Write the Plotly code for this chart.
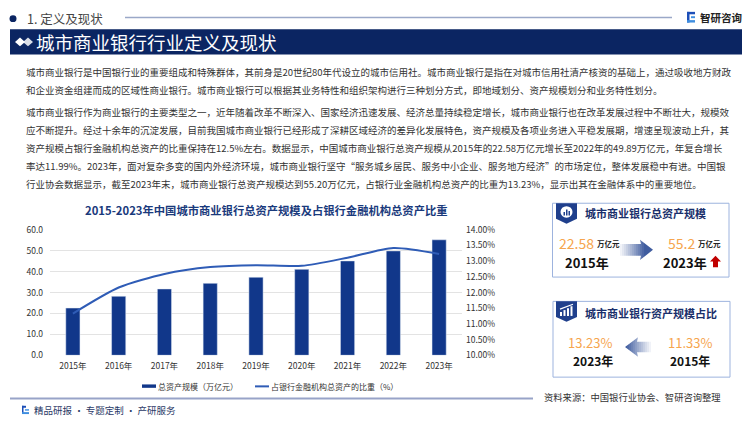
import plotly.graph_objects as go

# ---------------- data ----------------
years = ["2015年", "2016年", "2017年", "2018年", "2019年", "2020年", "2021年", "2022年", "2023年"]
assets = [22.58, 28.2, 31.7, 34.4, 37.3, 41.1, 45.1, 49.89, 55.20]          # 万亿元
ratio = [11.33, 12.16, 12.59, 12.81, 12.87, 12.85, 13.11, 13.42, 13.23]     # %
left_ticks = [0, 10, 20, 30, 40, 50, 60]
left_labels = ["0.0", "10.0", "20.0", "30.0", "40.0", "50.0", "60.0"]
right_ticks = [10.0, 10.5, 11.0, 11.5, 12.0, 12.5, 13.0, 13.5, 14.0]
right_labels = ["10.00%", "10.50%", "11.00%", "11.50%", "12.00%", "12.50%", "13.00%", "13.50%", "14.00%"]

chart_title = "2015-2023年中国城市商业银行总资产规模及占银行金融机构总资产比重"
legend_labels = ["总资产规模（万亿元）", "占银行金融机构总资产的比重（%）"]

para_lines = [
    "城市商业银行是中国银行业的重要组成和特殊群体，其前身是20世纪80年代设立的城市信用社。城市商业银行是指在对城市信用社清产核资的基础上，通过吸收地方财政",
    "和企业资金组建而成的区域性商业银行。城市商业银行可以根据其业务特性和组织架构进行三种划分方式，即地域划分、资产规模划分和业务特性划分。",
    "城市商业银行作为商业银行的主要类型之一，近年随着改革不断深入、国家经济迅速发展、经济总量持续稳定增长，城市商业银行也在改革发展过程中不断壮大，规模效",
    "应不断提升。经过十余年的沉淀发展，目前我国城市商业银行已经形成了深耕区域经济的差异化发展特色，资产规模及各项业务进入平稳发展期，增速呈现波动上升，其",
    "资产规模占银行金融机构总资产的比重保持在12.5%左右。数据显示，中国城市商业银行总资产规模从2015年的22.58万亿元增长至2022年的49.89万亿元，年复合增长",
    "率达11.99%。2023年，面对复杂多变的国内外经济环境，城市商业银行坚守“服务城乡居民、服务中小企业、服务地方经济”的市场定位，整体发展稳中有进。中国银",
    "行业协会数据显示，截至2023年末，城市商业银行总资产规模达到55.20万亿元，占银行业金融机构总资产的比重为13.23%，显示出其在金融体系中的重要地位。",
]
para_y = [66.5, 85.5, 108, 126.5, 145, 163.5, 182.5]

W, H = 750, 421
FONT = "Noto Sans CJK SC, Microsoft YaHei, sans-serif"
NAVY = "#0b2562"
BAR = "#11378a"
LINE = "#2f5cb6"
ORANGE = "#f6a54e"


def px(x):
    return x / W


def py(y):
    return 1 - y / H


fig = go.Figure()
fig.add_trace(go.Bar(x=years, y=assets, width=0.31, marker_color=BAR,
                     name=legend_labels[0], showlegend=False))
fig.add_trace(go.Scatter(x=years, y=ratio, mode="lines", yaxis="y2",
                         line=dict(color=LINE, width=2, shape="spline", smoothing=0.7),
                         name=legend_labels[1], showlegend=False))

shapes = []
ann = []


def text(x, y, s, size, color="#333333", anchor="left", bold=False, yanchor="middle"):
    ann.append(dict(x=px(x), y=py(y), xref="paper", yref="paper", text=(f"<b>{s}</b>" if bold else s),
                    showarrow=False, xanchor=anchor, yanchor=yanchor,
                    font=dict(size=size, color=color, family=FONT), borderpad=0))


def rect(x0, y0, x1, y1, fill=None, line=None, lw=1, opacity=1):
    shapes.append(dict(type="rect", xref="paper", yref="paper", x0=px(x0), x1=px(x1), y0=py(y1), y1=py(y0),
                       fillcolor=fill if fill else "rgba(0,0,0,0)",
                       line=dict(color=line if line else "rgba(0,0,0,0)", width=lw if line else 0),
                       opacity=opacity, layer="above"))


def poly(points, fill, opacity=1):
    d = "M" + " L".join(f"{px(x)},{py(y)}" for x, y in points) + " Z"
    shapes.append(dict(type="path", xref="paper", yref="paper", path=d, fillcolor=fill,
                       line=dict(width=0), opacity=opacity, layer="above"))


def hline(x0, x1, y, color, w):
    shapes.append(dict(type="line", xref="paper", yref="paper", x0=px(x0), x1=px(x1), y0=py(y), y1=py(y),
                       line=dict(color=color, width=w), layer="above"))


# ---------- header ----------
shapes.append(dict(type="circle", xref="paper", yref="paper", x0=px(9.5), x1=px(16.5), y0=py(15.5), y1=py(8.5),
                   fillcolor=NAVY, line=dict(width=0)))
text(26, 12, "1. 定义及现状", 12.5, color="#444444")
hline(125, 672, 10.7, "#9aa8c8", 1.5)
# logo
rect(687, 5, 695, 7.5, fill="#1d4fb8")
rect(687, 5, 689.5, 16, fill="#1d4fb8")
rect(691, 9.5, 695, 11.5, fill="#3f8ee0")
rect(687, 13.5, 695, 16, fill="#3f8ee0")
text(699, 10.5, "智研咨询", 10.5, color="#222222", bold=True)

# ---------- banner ----------
rect(10, 23, 742, 49, fill=NAVY)
poly([(15, 36), (20, 31.5), (25, 36), (20, 40.5)], "#ffffff")
poly([(23, 36), (28, 31.5), (33, 36), (28, 40.5)], "#ffffff", opacity=0.85)
text(35, 36, "城市商业银行行业定义及现状", 18.5, color="#ffffff")

# ---------- paragraphs ----------
for s, y in zip(para_lines, para_y):
    text(25, y, s, 9.5, color="#333333")

# ---------- chart title & legend ----------
text(266, 208.5, chart_title, 11.3, color="#1a3a7c", anchor="center", bold=True)
rect(142, 388.5, 156, 392, fill=BAR)
text(157, 390.5, legend_labels[0], 8, color="#333333")
hline(255, 269, 390.5, LINE, 2)
text(270, 390.5, legend_labels[1], 8, color="#333333")

# ---------- right box 1 ----------
rect(552.5, 202, 729, 278, line="#9db3de", lw=1)
poly([(556, 202), (577, 202), (577, 218), (566.5, 223), (556, 218)], "#1f3f8c")
shapes.append(dict(type="circle", xref="paper", yref="paper", x0=px(560.5), x1=px(572.5), y0=py(217), y1=py(205),
                   fillcolor="#ffffff", line=dict(width=0), layer="above"))
rect(563.5, 211, 565, 214.5, fill="#1f3f8c")
rect(566, 208.5, 567.5, 214.5, fill="#1f3f8c")
rect(568.5, 210, 570, 214.5, fill="#1f3f8c")
text(584, 212, "城市商业银行总资产规模", 11, color="#1a2f6b", bold=True)
text(558, 243, "22.58", 14, color=ORANGE)
text(596, 243, "万亿元", 7.5, color="#222222", bold=True)
text(587, 262.5, "2015年", 13, color="#111111", anchor="center", bold=True)
# gradient arrow right
poly([(620, 244), (641, 244), (640, 239.5), (653, 250), (640, 260.5), (641, 256), (620, 256)], "#3f5c9f")
for i in range(12):
    x0 = 620 + i * 2
    rect(x0 - 0.1, 238, x0 + 2.1, 262, fill="#ffffff", opacity=0.92 * (1 - i / 12))
text(667, 243, "55.2", 14, color=ORANGE)
text(697, 243, "万亿元", 7.5, color="#222222", bold=True)
text(685, 262.5, "2023年", 13, color="#111111", anchor="center", bold=True)
poly([(715.5, 256), (721, 262), (718, 262), (718, 268), (713, 268), (713, 262), (710, 262)], "#c00000")

# ---------- right box 2 ----------
rect(553, 303, 730, 381, line="#9db3de", lw=1)
poly([(556, 303), (577, 303), (577, 319), (566.5, 324), (556, 319)], "#1f3f8c")
rect(560, 314, 562, 318, fill="#ffffff")
rect(563.5, 312, 565.5, 318, fill="#ffffff")
rect(567, 310, 569, 318, fill="#ffffff")
rect(570.5, 308, 572.5, 318, fill="#ffffff")
shapes.append(dict(type="line", xref="paper", yref="paper", x0=px(560), y0=py(311), x1=px(573), y1=py(306),
                   line=dict(color="#ffffff", width=1.2), layer="above"))
text(584, 315, "城市商业银行资产规模占比", 11, color="#1a2f6b", bold=True)
text(589.5, 345, "13.23%", 13, color=ORANGE, anchor="center")
text(592.5, 364, "2023年", 12, color="#111111", anchor="center", bold=True)
poly([(625, 350), (638, 340), (637, 344.5), (651, 344.5), (651, 355.5), (637, 355.5), (638, 360)], "#3f5c9f")
for i in range(12):
    x0 = 651 - (i + 1) * 2
    rect(x0 - 0.1, 338, x0 + 2.1, 362, fill="#ffffff", opacity=0.92 * (1 - i / 12))
text(690, 345, "11.33%", 13, color=ORANGE, anchor="center")
text(690, 364, "2015年", 12, color="#111111", anchor="center", bold=True)

# ---------- footer ----------
hline(10, 533, 403, "#98a3c8", 2)
text(543, 401, "资料来源：中国银行业协会、智研咨询整理", 9.3, color="#333333")
rect(22, 410.5, 26, 412.5, fill="#1d4fb8")
rect(22, 410.5, 23.5, 419, fill="#1d4fb8")
rect(25, 414, 29, 415.5, fill="#3f8ee0")
rect(22, 417, 29, 419, fill="#3f8ee0")
text(33, 415, "精品研报 · 专题定制 · 产研服务", 9.5, color="#2b3a67")

fig.update_layout(
    width=W, height=H,
    margin=dict(l=0, r=0, t=0, b=0),
    paper_bgcolor="#ffffff", plot_bgcolor="#ffffff",
    font=dict(family=FONT, color="#333333"),
    showlegend=False,
    xaxis=dict(domain=[px(50), px(462)], type="category", showgrid=False, showline=False,
               ticks="", tickfont=dict(size=8.5, color="#333333"), ticklabelstandoff=4),
    yaxis=dict(domain=[py(358.5), py(229.3)], range=[0, 60], tickvals=left_ticks, ticktext=left_labels,
               gridcolor="#e3e3e3", gridwidth=1, zeroline=False,
               showline=False, ticks="", tickfont=dict(size=8.5, color="#333333"), ticklabelstandoff=6),
    yaxis2=dict(overlaying="y", side="right", range=[10, 14], tickvals=right_ticks, ticktext=right_labels,
                showgrid=False, zeroline=False, showline=False,
                ticks="", tickfont=dict(size=8.5, color="#333333"), ticklabelstandoff=3),
    shapes=shapes,
    annotations=ann,
)

fig.write_html("out.html", config={"displayModeBar": False},
               post_script="document.body.style.margin='0';document.body.style.overflow='hidden';")
